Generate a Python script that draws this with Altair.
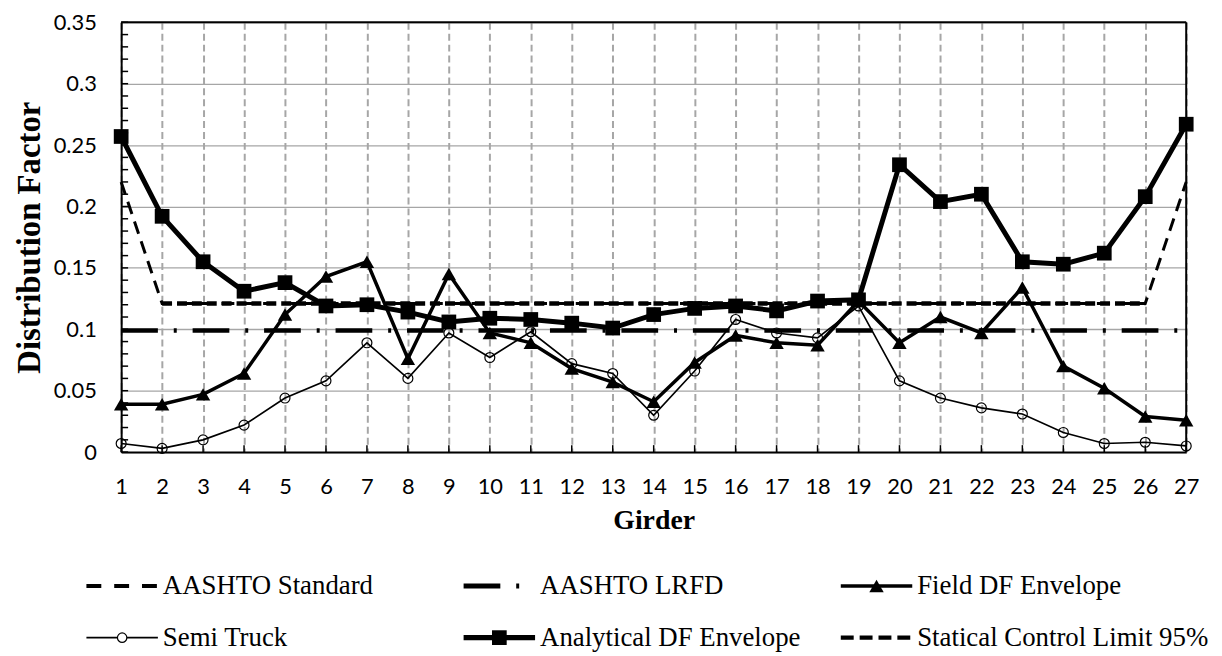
import altair as alt
import pandas as pd

# ---------------- data ----------------
girders = list(range(1, 28))
aashto_standard = [0.22] + [0.121] * 25 + [0.22]
aashto_lrfd = [0.099] * 27
field_df = [0.039, 0.039, 0.047, 0.064, 0.112, 0.143, 0.155, 0.076, 0.145, 0.097,
            0.089, 0.068, 0.057, 0.041, 0.073, 0.095, 0.089, 0.087, 0.123, 0.089,
            0.110, 0.097, 0.134, 0.070, 0.052, 0.029, 0.026]
semi_truck = [0.007, 0.003, 0.010, 0.022, 0.044, 0.058, 0.089, 0.060, 0.097, 0.077,
              0.098, 0.072, 0.064, 0.030, 0.066, 0.108, 0.097, 0.093, 0.119, 0.058,
              0.044, 0.036, 0.031, 0.016, 0.007, 0.008, 0.005]
analytical_df = [0.257, 0.192, 0.155, 0.131, 0.138, 0.119, 0.120, 0.114, 0.106, 0.109,
                 0.108, 0.105, 0.101, 0.112, 0.117, 0.119, 0.115, 0.123, 0.124, 0.234,
                 0.204, 0.210, 0.155, 0.153, 0.162, 0.208, 0.267]
control_girders = list(range(2, 27))
control_limit = [0.121] * 25

y_tick_values = [0, 0.05, 0.1, 0.15, 0.2, 0.25, 0.3, 0.35]
minor_tick_values = [0, 0.01, 0.02, 0.03, 0.04, 0.05, 0.06, 0.07, 0.08, 0.09, 0.1,
                     0.11, 0.12, 0.13, 0.14, 0.15, 0.16, 0.17, 0.18, 0.19, 0.2,
                     0.21, 0.22, 0.23, 0.24, 0.25, 0.26, 0.27, 0.28, 0.29, 0.3,
                     0.31, 0.32, 0.33, 0.34, 0.35]

legend_labels = ["AASHTO Standard", "AASHTO LRFD", "Field DF Envelope",
                 "Semi Truck", "Analytical DF Envelope", "Statical Control Limit 95%"]

# ---------------- layout ----------------
W, H = 1073, 433
SERIF = "Liberation Serif"
SANS = "Lato"

xs = alt.Scale(domain=[1, 27], nice=False, zero=False)
ys = alt.Scale(domain=[0, 0.35], nice=False, zero=False)

x_axis = alt.Axis(values=girders, title="Girder", grid=True, gridDash=[7, 4],
                  gridColor="#a6a6a6", gridWidth=2, ticks=False, labelPadding=25,
                  labelFont=SANS, labelFontSize=22, labelColor="black",
                  labelFlush=False, titleFont=SERIF, titleFontSize=28,
                  titleFontWeight="bold", titleColor="black", titlePadding=9,
                  domainColor="black", domainWidth=2)
y_axis = alt.Axis(values=y_tick_values, format="~g", title="Distribution Factor",
                  grid=True, gridColor="#a6a6a6", gridWidth=1.3, ticks=False,
                  labelPadding=25, labelFont=SANS, labelFontSize=22,
                  labelColor="black", labelFlush=False, titleFont=SERIF,
                  titleFontSize=33, titleFontWeight="bold", titleColor="black",
                  titlePadding=7, domainColor="black", domainWidth=2)


def sdf(xv, yv):
    return pd.DataFrame({"girder": xv, "value": yv})


def enc(chart):
    return chart.encode(x=alt.X("girder:Q", scale=xs, axis=x_axis),
                        y=alt.Y("value:Q", scale=ys, axis=y_axis))


std_line = enc(alt.Chart(sdf(girders, aashto_standard)).mark_line(
    color="black", strokeWidth=3, strokeDash=[13, 8]))
lrfd_line = enc(alt.Chart(sdf(girders, aashto_lrfd)).mark_line(
    color="black", strokeWidth=4.5, strokeDash=[37, 16, 3, 16]))
control_line = enc(alt.Chart(sdf(control_girders, control_limit)).mark_line(
    color="black", strokeWidth=4.5, strokeDash=[10, 5]))

field_src = alt.Chart(sdf(girders, field_df))
field_line = enc(field_src.mark_line(color="black", strokeWidth=3.5))
field_pts = enc(field_src.mark_point(shape="triangle-up", filled=True, size=210,
                                     color="black", opacity=1))

semi_src = alt.Chart(sdf(girders, semi_truck))
semi_line = enc(semi_src.mark_line(color="black", strokeWidth=1.7))
semi_pts = enc(semi_src.mark_point(shape="circle", filled=False, size=100,
                                   color="black", strokeWidth=1.2, opacity=1))

anal_src = alt.Chart(sdf(girders, analytical_df))
anal_line = enc(anal_src.mark_line(color="black", strokeWidth=5))
anal_pts = enc(anal_src.mark_point(shape="square", filled=True, size=220,
                                   color="black", opacity=1))

# inward tick marks
ytick_layer = alt.Chart(pd.DataFrame({"value": minor_tick_values})).mark_rule(
    color="black", strokeWidth=1.5).encode(
    y=alt.Y("value:Q", scale=ys, axis=y_axis), x=alt.value(0), x2=alt.value(7))
xtick_layer = alt.Chart(pd.DataFrame({"girder": girders})).mark_rule(
    color="black", strokeWidth=1.5).encode(
    x=alt.X("girder:Q", scale=xs, axis=x_axis), y=alt.value(H), y2=alt.value(H - 7))

# black frame on top and right of the plot area
frame_right = alt.Chart(pd.DataFrame({"girder": [27]})).mark_rule(
    color="black", strokeWidth=2).encode(
    x=alt.X("girder:Q", scale=xs, axis=x_axis), y=alt.value(0), y2=alt.value(H))
frame_top = alt.Chart(pd.DataFrame({"value": [0.35]})).mark_rule(
    color="black", strokeWidth=2).encode(
    y=alt.Y("value:Q", scale=ys, axis=y_axis), x=alt.value(0), x2=alt.value(W))

main = alt.layer(
    frame_right, frame_top,
    ytick_layer, xtick_layer,
    std_line, lrfd_line, control_line,
    semi_line, semi_pts,
    field_line, field_pts,
    anal_line, anal_pts,
).properties(width=W, height=H)

# ---------------- legend ----------------
col_px = 380.0
leg = pd.DataFrame({"label": legend_labels,
                    "col": [0, 1, 2, 0, 1, 2],
                    "row": [0, 0, 0, 1, 1, 1]})
leg["x0"] = leg["col"]
leg["x1"] = leg["col"] + 72 / col_px
leg["xm"] = leg["col"] + 36 / col_px
leg["xt"] = leg["col"] + 77 / col_px

lx = alt.Scale(domain=[35 / col_px, (W + 35) / col_px], nice=False, zero=False)
ly = alt.Scale(domain=[-0.5, 1.04], reverse=True, nice=False, zero=False)

styles = {
    "AASHTO Standard": dict(dash=[15, 13], width=4),
    "AASHTO LRFD": dict(dash=[37, 16, 3, 16], width=5),
    "Field DF Envelope": dict(width=3.5, shape="triangle-up", size=210, filled=True),
    "Semi Truck": dict(width=2, shape="circle", size=90, filled=False),
    "Analytical DF Envelope": dict(width=5.5, shape="square", size=220, filled=True),
    "Statical Control Limit 95%": dict(dash=[13, 6], width=4.5),
}

leg_layers = []
for name in legend_labels:
    st = styles[name]
    src = alt.Chart(leg).transform_filter(alt.datum.label == name)
    rule_kw = dict(color="black", strokeWidth=st["width"])
    if "dash" in st:
        rule_kw["strokeDash"] = st["dash"]
    leg_layers.append(src.mark_rule(**rule_kw).encode(
        x=alt.X("x0:Q", scale=lx, axis=None), x2="x1:Q",
        y=alt.Y("row:Q", scale=ly, axis=None)))
    if "shape" in st:
        leg_layers.append(src.mark_point(
            shape=st["shape"], size=st["size"], filled=st["filled"],
            color="black", opacity=1, strokeWidth=1.2,
            fill="black" if st["filled"] else "white").encode(
            x=alt.X("xm:Q", scale=lx, axis=None),
            y=alt.Y("row:Q", scale=ly, axis=None)))

leg_text = alt.Chart(leg).mark_text(align="left", baseline="middle", font=SERIF,
                                    fontSize=27, color="black").encode(
    x=alt.X("xt:Q", scale=lx, axis=None),
    y=alt.Y("row:Q", scale=ly, axis=None),
    text="label:N")

legend = alt.layer(*leg_layers, leg_text).properties(width=W, height=80)

chart = alt.vconcat(main, legend, spacing=26).properties(
    padding={"left": 5, "top": 1, "right": 5, "bottom": 0},
    background="white",
).configure_view(strokeWidth=0)

chart.save("out.html", embed_options={"renderer": "svg", "actions": False})
